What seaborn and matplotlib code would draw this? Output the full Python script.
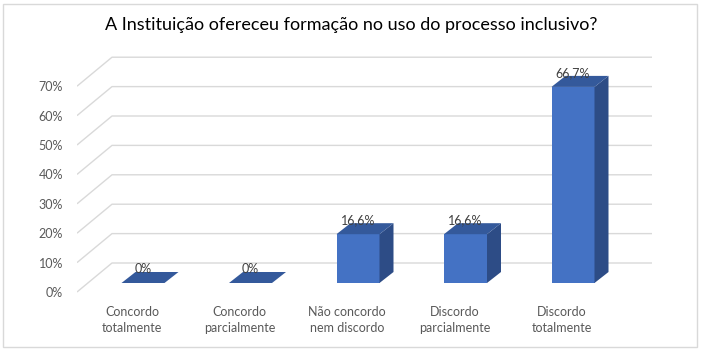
import numpy as np
import matplotlib.pyplot as plt
import matplotlib.patches as mpatches
import seaborn as sns

categories = ["Concordo\ntotalmente", "Concordo\nparcialmente", "Não concordo\nnem discordo",
              "Discordo\nparcialmente", "Discordo\ntotalmente"]
values = [0, 0, 16.6, 16.6, 66.7]
value_labels = ["0%", "0%", "16,6%", "16,6%", "66,7%"]
grid_values = [0, 10, 20, 30, 40, 50, 60, 70]
title = "A Instituição ofereceu formação no uso do processo inclusivo?"

front = "#4472C4"
side = "#2D4C86"
top = "#34599B"
gridc = "#D9D9D9"
textc = "#595959"

sns.set_theme(style="white")
plt.rcParams['font.family'] = ['Lato', 'DejaVu Sans']

W, H = 703, 351
fig = plt.figure(figsize=(W / 100, H / 100), dpi=100)
# axes box in pixels: left 77, right 652, top 40, bottom 300
ax = fig.add_axes([77 / W, 1 - 300 / H, (652 - 77) / W, (300 - 40) / H])

sns.barplot(x=list(range(len(values))), y=values, color=front, width=0.4,
            saturation=1, ax=ax, zorder=3)

# pixel scale: 107.5 px per category, 2.94 px per percent
px_x = 1 / 107.5
px_y = 1 / 2.94
ax.set_xlim((77 - 143) * px_x, (652 - 143) * px_x)
ax.set_ylim(-(300 - 283) * px_y, (283 - 40) * px_y)

# 3d floor / back wall offsets
floor_front = -9 * px_y
floor_back = 20 * px_y
back_dx = 35 * px_x
x_front, x_right = ax.get_xlim()
for v in grid_values:
    ax.plot([x_front, x_front + back_dx, x_right],
            [v + floor_front, v + floor_back, v + floor_back],
            color=gridc, lw=1.0, zorder=0, solid_capstyle='butt')

dx = 14 * px_x
dy = 11 * px_y
for p, v, lab in zip(ax.patches, values, value_labels):
    x0 = p.get_x()
    x1 = x0 + p.get_width()
    h = p.get_height()
    p.set_edgecolor('none')
    ax.add_patch(mpatches.Polygon([(x1, 0), (x1 + dx, dy), (x1 + dx, h + dy), (x1, h)],
                                  closed=True, fc=side, ec='none', zorder=3))
    ax.add_patch(mpatches.Polygon([(x0, h), (x0 + dx, h + dy), (x1 + dx, h + dy), (x1, h)],
                                  closed=True, fc=top, ec='none', zorder=3))
    ax.text((x0 + x1) / 2, v + 4.7, lab, ha='center', va='center',
            fontsize=9, color='#404040', zorder=4)

ax.set_yticks([v + floor_front for v in grid_values])
ax.set_yticklabels([f"{v}%" for v in grid_values])
ax.set_xticks(np.arange(len(categories)) - 11 * px_x)
ax.set_xticklabels(categories, linespacing=1.45)
ax.set_xlim((77 - 143) * px_x, (652 - 143) * px_x)
ax.tick_params(axis='y', length=0, pad=10, labelsize=9, labelcolor=textc)
ax.tick_params(axis='x', length=0, pad=4, labelsize=9, labelcolor=textc)
ax.set_xlabel("")
ax.set_ylabel("")
sns.despine(ax=ax, left=True, bottom=True)

fig.text(0.5, 1 - 25 / H, title, ha='center', va='center', fontsize=13, color='#000000')
fig.patches.append(mpatches.Rectangle((3 / W, 4 / H), (697 - 3) / W, (347 - 4) / H,
                                      transform=fig.transFigure, fill=False,
                                      ec='#D9D9D9', lw=1))

fig.savefig("out.png", dpi=100)
